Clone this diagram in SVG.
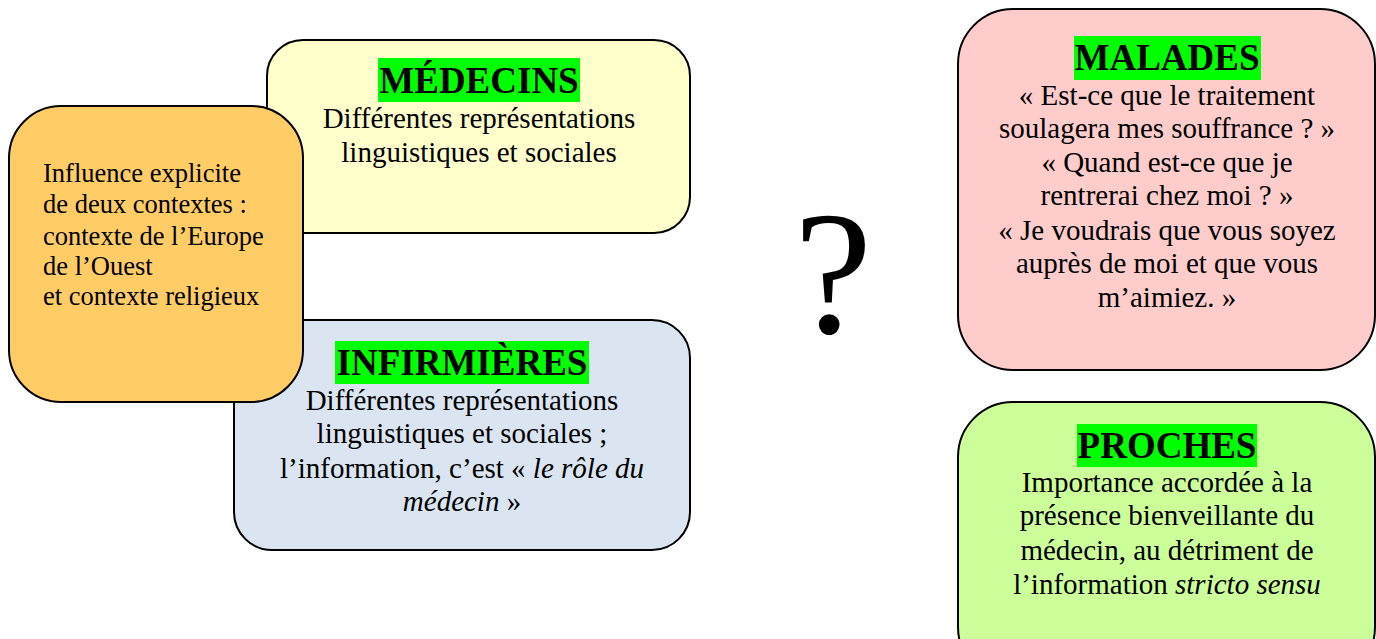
<svg xmlns="http://www.w3.org/2000/svg" width="1376" height="639" viewBox="0 0 1376 639">
<style>
.box{stroke:#000;stroke-width:2}
.t{font-family:"Liberation Serif","Times New Roman",serif;fill:#000}
.body{font-size:29px;text-anchor:middle}
.ttl{font-size:37px;font-weight:bold;text-anchor:middle}
.hl{fill:#00FF00}
.it{font-style:italic}
</style>
<rect width="1376" height="639" fill="#fff"/>
<g id="medecins">
<rect class="box" x="267" y="40" width="423" height="193" rx="36" fill="#FFFFCC"/>
<rect class="hl" x="378" y="58" width="202" height="44"/>
<text class="t ttl" x="479" y="93">MÉDECINS</text>
<text class="t body" x="479" y="128">Différentes représentations</text>
<text class="t body" x="479" y="162">linguistiques et sociales</text>
</g>
<g id="infirmieres">
<rect class="box" x="234" y="320" width="456" height="230" rx="38" fill="#DBE5F1"/>
<rect class="hl" x="335" y="341" width="254" height="43"/>
<text class="t ttl" x="462" y="375">INFIRMIÈRES</text>
<text class="t body" x="462" y="410">Différentes représentations</text>
<text class="t body" x="462" y="443">linguistiques et sociales ;</text>
<text class="t body" x="462" y="478">l’information, c’est « <tspan class="it">le rôle du</tspan></text>
<text class="t body" x="462" y="511"><tspan class="it">médecin</tspan> »</text>
</g>
<g id="contextes">
<rect class="box" x="9" y="106" width="294" height="296" rx="52" fill="#FFCC66"/>
<text class="t" font-size="26.5" x="43" y="182">Influence explicite</text>
<text class="t" font-size="26.5" x="43" y="213">de deux contextes :</text>
<text class="t" font-size="26.5" x="43" y="245">contexte de l’Europe</text>
<text class="t" font-size="26.5" x="43" y="275">de l’Ouest</text>
<text class="t" font-size="26.5" x="43" y="305">et contexte religieux</text>
</g>
<g id="question">
<text class="t" font-size="176" text-anchor="middle" x="833" y="333">?</text>
</g>
<g id="malades">
<rect class="box" x="958" y="9" width="417" height="361" rx="55" fill="#FFCCCC"/>
<rect class="hl" x="1074" y="36" width="187" height="44"/>
<text class="t ttl" x="1167" y="70">MALADES</text>
<text class="t body" x="1167" y="105">« Est-ce que le traitement</text>
<text class="t body" x="1167" y="138">soulagera mes souffrance ? »</text>
<text class="t body" x="1167" y="172">« Quand est-ce que je</text>
<text class="t body" x="1167" y="205">rentrerai chez moi ? »</text>
<text class="t body" x="1167" y="240">« Je voudrais que vous soyez</text>
<text class="t body" x="1167" y="273">auprès de moi et que vous</text>
<text class="t body" x="1167" y="307">m’aimiez. »</text>
</g>
<g id="proches">
<rect class="box" x="958" y="402" width="417" height="280" rx="55" fill="#CCFF99"/>
<rect class="hl" x="1077" y="424" width="180" height="43"/>
<text class="t ttl" x="1167" y="458">PROCHES</text>
<text class="t body" x="1167" y="492">Importance accordée à la</text>
<text class="t body" x="1167" y="525">présence bienveillante du</text>
<text class="t body" x="1167" y="560">médecin, au détriment de</text>
<text class="t body" x="1167" y="594">l’information <tspan class="it">stricto sensu</tspan></text>
</g>
<g id="connectors"></g>
</svg>
